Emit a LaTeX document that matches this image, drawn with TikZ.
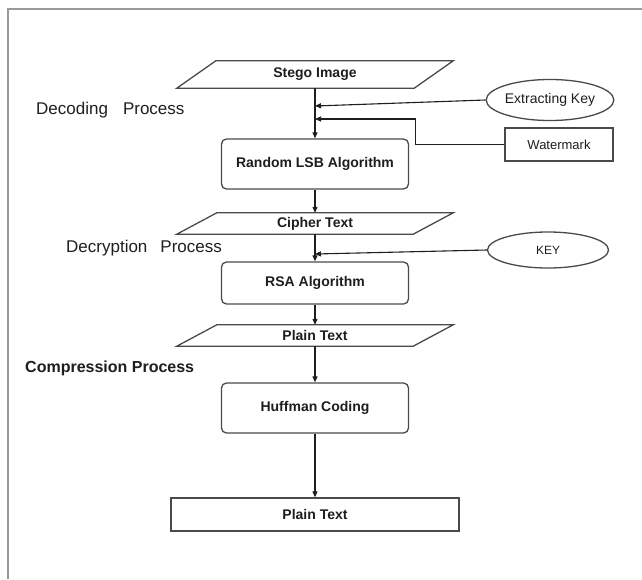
\documentclass[tikz,border=0pt]{standalone}
\usepackage{fontspec}
\setmainfont{Liberation Sans}
\usetikzlibrary{shapes.geometric,arrows.meta}
\definecolor{ink}{HTML}{1E1E1E}
\definecolor{edge}{HTML}{4A4A4A}
\definecolor{framec}{HTML}{9A9A9A}
\begin{document}
\begin{tikzpicture}[x=1pt,y=-1pt,
  boxtext/.style={font=\fontsize{14}{16}\selectfont\bfseries, text=ink},
  paranode/.style={boxtext, draw=none, inner sep=0pt},
  paraline/.style={draw=edge, line width=1.3pt, line join=miter},
  roundbox/.style={boxtext, draw=edge, line width=1.3pt, rounded corners=5pt, fill=white, inner sep=0pt, minimum width=187pt},
  plainbox/.style={draw=edge, line width=1.3pt, inner sep=0pt, text=ink},
  ovalnode/.style={ellipse, draw=edge, line width=1.3pt, inner sep=0pt, text=ink},
  arr/.style={draw=ink, line width=1.1pt, -{Triangle[length=6pt,width=5pt]}},
  proclabel/.style={anchor=west, inner sep=0pt, text=ink, font=\fontsize{17}{20}\selectfont}
]
\useasboundingbox (0,0) rectangle (642,579);
\fill[white] (0,0) rectangle (642,579);
\draw[framec, line width=1.6pt] (8,579) -- (8,9) -- (642,9);

% parallelogram nodes
\node[paranode, minimum width=276pt, minimum height=27pt] (stego) at (315,74.5) {Stego Image};
\draw[paraline] ([xshift=39pt]stego.north west) -- (stego.north east) -- ([xshift=-39pt]stego.south east) -- (stego.south west) -- cycle;

\node[roundbox, minimum height=50pt] (rsb) at (315,164) {Random LSB Algorithm};

\node[paranode, minimum width=276pt, minimum height=21pt] (ciph) at (315,223.5) {Cipher Text};
\draw[paraline] ([xshift=40pt]ciph.north west) -- (ciph.north east) -- ([xshift=-40pt]ciph.south east) -- (ciph.south west) -- cycle;

\node[roundbox, minimum height=42pt] (rsa) at (315,283) {RSA\hspace{4pt}Algorithm};

\node[paranode, minimum width=276pt, minimum height=21pt] (plain) at (315,335.5) {Plain Text};
\draw[paraline] ([xshift=40pt]plain.north west) -- (plain.north east) -- ([xshift=-40pt]plain.south east) -- (plain.south west) -- cycle;

\node[roundbox, minimum height=50pt] (huff) at (315,408) {Huffman Coding};

\node[plainbox, boxtext, minimum width=288pt, minimum height=33pt] (out) at (315,514.5) {Plain Text};

% side inputs
\node[ovalnode, minimum width=109pt, minimum height=41pt, font=\fontsize{14}{16}\selectfont] (ek) at (550,100) {Extracting Key};
\node[plainbox, minimum width=108pt, minimum height=33pt, font=\fontsize{13}{15}\selectfont] (wm) at (559,144.5) {Watermark};
\node[ovalnode, minimum width=121pt, minimum height=36pt, font=\fontsize{12}{14}\selectfont] (key) at (548,250) {KEY};

% process labels
\node[proclabel] (dec) at (36,110) {Decoding\hspace{15pt}Process};
\node[proclabel] (decr) at (66,248) {Decryption\hspace{13pt}Process};
\node[proclabel, font=\fontsize{16}{19}\selectfont\bfseries] (comp) at (25,368) {Compression Process};

% junction points on the main axis
\coordinate (j1) at (315,106);
\coordinate (j2) at (315,119);
\coordinate (j3) at (315,254);

% connectors
\draw[arr] (stego.south) -- (rsb.north);
\draw[arr] (ek.west) -- (j1);
\draw[arr] (wm.west) -- ++(-89,0) |- (j2);
\draw[arr] (rsb.south) -- (ciph.north);
\draw[arr] (ciph.south) -- (rsa.north);
\draw[arr] (key.west) -- (j3);
\draw[arr] (rsa.south) -- (plain.north);
\draw[arr] (plain.south) -- (huff.north);
\draw[arr] (huff.south) -- (out.north);
\end{tikzpicture}
\end{document}
